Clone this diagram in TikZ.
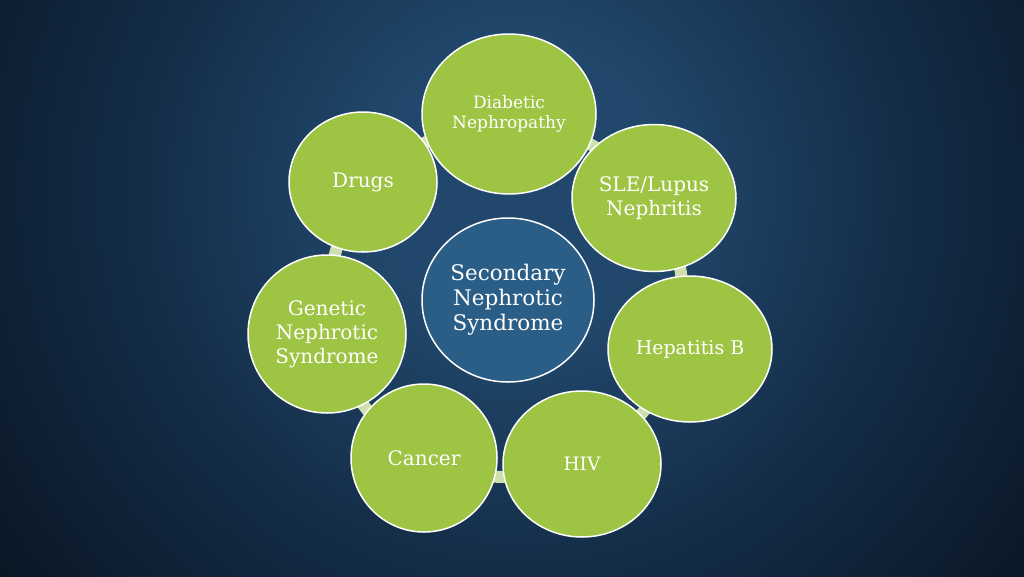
\documentclass[tikz,border=0pt]{standalone}
\usepackage{fontspec}
\setmainfont{DejaVu Serif}
\usetikzlibrary{shapes.geometric}
\definecolor{bgdark}{HTML}{0A1725}
\definecolor{bgmid}{HTML}{142D48}
\definecolor{bglight}{HTML}{21486C}
\definecolor{leaf}{HTML}{9DC443}
\definecolor{hub}{HTML}{2B5E86}
\definecolor{ringc}{HTML}{CEDFB0}
\pgfdeclareradialshading{bgshade}{\pgfpoint{0bp}{0bp}}{color(0bp)=(bglight); color(5bp)=(bglight); color(13.5bp)=(bgmid); color(23bp)=(bgdark); color(50bp)=(bgdark)}
\begin{document}
\begin{tikzpicture}[x=1pt,y=-1pt,
  bub/.style={ellipse, draw=white, line width=1.5pt, fill=leaf, text=white,
    align=center, inner sep=0pt, font=\fontsize{20}{24}\selectfont},
  hubstyle/.style={bub, fill=hub, font=\fontsize{21.5}{25}\selectfont},
  ringline/.style={draw=ringc, line width=12pt}]
\useasboundingbox (0,0) rectangle (1024,576);
\clip (0,0) rectangle (1024,576);
\shade[shading=bgshade] (-180,-510) rectangle (1220,890);
\coordinate (ringc) at (506,300);
\draw[ringline] (ringc) circle (177);
\node[hubstyle, minimum width=172pt, minimum height=164pt] (hubn) at (508,300) {Secondary\\Nephrotic\\Syndrome};
\node[bub, minimum width=174pt, minimum height=160pt, font=\fontsize{17}{20.5}\selectfont] (diab) at (509,114) {Diabetic\\Nephropathy};
\node[bub, minimum width=164pt, minimum height=147pt] (sle) at (654,198) {SLE/Lupus\\Nephritis};
\node[bub, minimum width=164pt, minimum height=146pt, font=\fontsize{19}{24}\selectfont] (hep) at (690,349) {Hepatitis B};
\node[bub, minimum width=158pt, minimum height=146pt, font=\fontsize{18.5}{24}\selectfont] (hiv) at (582,464) {HIV};
\node[bub, minimum width=146pt, minimum height=148pt] (canc) at (424,458) {Cancer};
\node[bub, minimum width=158pt, minimum height=158pt] (gen) at (327,334) {Genetic\\Nephrotic\\Syndrome};
\node[bub, minimum width=148pt, minimum height=140pt] (drug) at (363,182) {Drugs};
\end{tikzpicture}
\end{document}
